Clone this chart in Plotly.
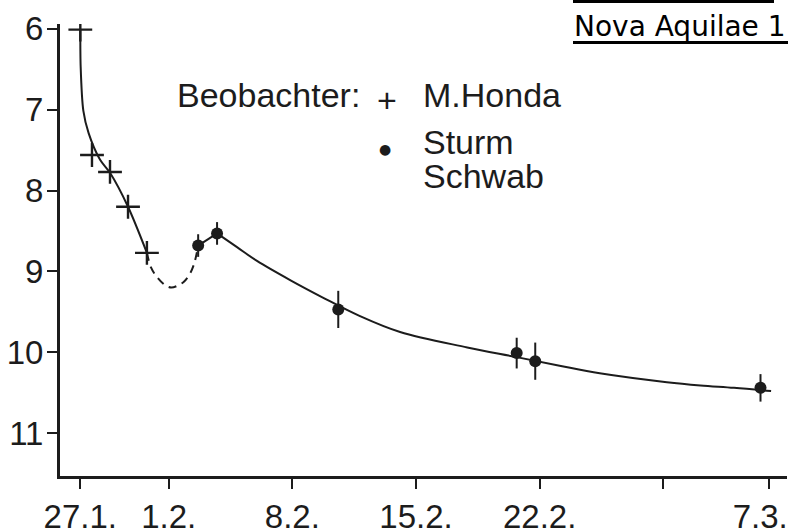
import plotly.graph_objects as go

# --- data (days after 27 Jan, visual magnitude) ---
honda_day = [0.0, 0.66, 1.68, 2.7, 3.77]
honda_mag = [6.01, 7.56, 7.77, 8.2, 8.77]

sturm_day = [6.67, 7.74, 14.6, 24.7, 25.75, 38.5]
sturm_mag = [8.68, 8.53, 9.47, 10.01, 10.11, 10.44]
sturm_err = [0.14, 0.14, 0.23, 0.19, 0.23, 0.17]

# hand-drawn light curve
curve_a_day = [0.0, 0.02, 0.17, 0.47, 1.12, 1.68, 2.7, 3.77]
curve_a_mag = [6.01, 6.47, 7.01, 7.29, 7.62, 7.78, 8.2, 8.77]

curve_b_day = [3.77, 4.0, 4.34, 4.8, 5.15, 5.47, 5.85, 6.2, 6.45, 6.67]
curve_b_mag = [8.77, 8.95, 9.07, 9.17, 9.2, 9.18, 9.13, 9.03, 8.9, 8.68]

curve_c_day = [6.67, 7.74]
curve_c_mag = [8.68, 8.53]

curve_d_day = [7.74, 8.87, 10.0, 11.9, 13.7, 15.8, 18.1, 21.9, 24.7, 27.2, 29.4, 33.2, 35.1, 37.0, 39.1]
curve_d_mag = [8.53, 8.70, 8.87, 9.11, 9.32, 9.55, 9.75, 9.94, 10.06, 10.17, 10.26, 10.37, 10.41, 10.44, 10.48]

tick_days = [0, 5, 12, 19, 26, 33, 39]
tick_text = ["27.1.", "1.2.", "8.2.", "15.2.", "22.2.", "", "7.3.\u00a0\u00a0"]
mag_ticks = [6, 7, 8, 9, 10, 11]

INK = "#1c1c1c"
FONT = "Liberation Sans, Arial, sans-serif"

fig = go.Figure()

line_style = dict(color=INK, width=2)
fig.add_trace(go.Scatter(x=curve_a_day, y=curve_a_mag, mode="lines",
                         line=dict(**line_style, shape="spline", smoothing=0.8),
                         hoverinfo="skip"))
fig.add_trace(go.Scatter(x=curve_b_day, y=curve_b_mag, mode="lines",
                         line=dict(**line_style, shape="spline", smoothing=1.0, dash="8px,6px"),
                         hoverinfo="skip"))
fig.add_trace(go.Scatter(x=curve_c_day, y=curve_c_mag, mode="lines",
                         line=line_style, hoverinfo="skip"))
fig.add_trace(go.Scatter(x=curve_d_day, y=curve_d_mag, mode="lines",
                         line=dict(**line_style, shape="spline", smoothing=1.0),
                         hoverinfo="skip"))

fig.add_trace(go.Scatter(x=honda_day, y=honda_mag, mode="markers", name="M.Honda",
                         marker=dict(symbol="cross-thin", size=17,
                                     line=dict(color=INK, width=2.4))))
fig.add_trace(go.Scatter(x=sturm_day, y=sturm_mag, mode="markers", name="Sturm Schwab",
                         marker=dict(symbol="circle", size=12, color=INK),
                         error_y=dict(type="data", array=sturm_err, visible=True,
                                      color=INK, thickness=2, width=0)))

W, H = 788, 531
L, R, T, B = 60, 1, 24, 55
pw, ph = W - L - R, H - T - B


def px(xp):
    return (xp - L) / pw


def py(yp):
    return (H - B - yp) / ph


ann = []
legend_font = dict(family=FONT, size=34, color=INK)
ann.append(dict(text="Beobachter:", x=px(175), y=py(95), xanchor="left", yanchor="middle",
                font=legend_font))
ann.append(dict(text="+", x=px(387), y=py(100), xanchor="center", yanchor="middle",
                font=legend_font))
ann.append(dict(text="M.Honda", x=px(421), y=py(95), xanchor="left", yanchor="middle",
                font=legend_font))
ann.append(dict(text="●", x=px(385), y=py(149), xanchor="center", yanchor="middle",
                font=dict(family="DejaVu Sans", size=14, color=INK)))
ann.append(dict(text="Sturm", x=px(421), y=py(142), xanchor="left", yanchor="middle",
                font=legend_font))
ann.append(dict(text="Schwab", x=px(421), y=py(176), xanchor="left", yanchor="middle",
                font=legend_font))
ann.append(dict(text="Nova Aquilae 1", x=px(572), y=py(27), xanchor="left", yanchor="middle",
                font=dict(family="DejaVu Sans", size=28, color="#000000")))
for a in ann:
    a.update(xref="paper", yref="paper", showarrow=False)

shapes = [
    dict(type="line", xref="paper", yref="paper", x0=px(573), x1=px(774), y0=py(1.5), y1=py(1.5),
         line=dict(color="#000000", width=3)),
    dict(type="line", xref="paper", yref="paper", x0=px(573), x1=px(790), y0=py(42.5), y1=py(42.5),
         line=dict(color="#000000", width=3)),
]

fig.update_layout(
    width=W, height=H,
    margin=dict(l=L, r=R, t=T, b=B, pad=0, autoexpand=False),
    paper_bgcolor="white", plot_bgcolor="white",
    showlegend=False,
    annotations=ann, shapes=shapes,
    xaxis=dict(range=[-1.15, 40.0], tickvals=tick_days, ticktext=tick_text,
               automargin=False, ticklabeloverflow="allow",
               showgrid=False, zeroline=False, showline=True, linecolor=INK, linewidth=3,
               ticks="outside", ticklen=10, tickwidth=2, tickcolor=INK,
               ticklabelstandoff=-1,
               tickfont=dict(family=FONT, size=33, color=INK)),
    yaxis=dict(range=[11.53, 5.94], tickvals=mag_ticks,
               automargin=False,
               showgrid=False, zeroline=False, showline=True, linecolor=INK, linewidth=3,
               ticks="outside", ticklen=10, tickwidth=2, tickcolor=INK,
               ticklabelstandoff=-3,
               tickfont=dict(family=FONT, size=33, color=INK)),
)

fig.write_html(
    "out.html",
    config={"displayModeBar": False},
    post_script="document.body.style.margin='0px';document.body.style.overflow='hidden';",
)
